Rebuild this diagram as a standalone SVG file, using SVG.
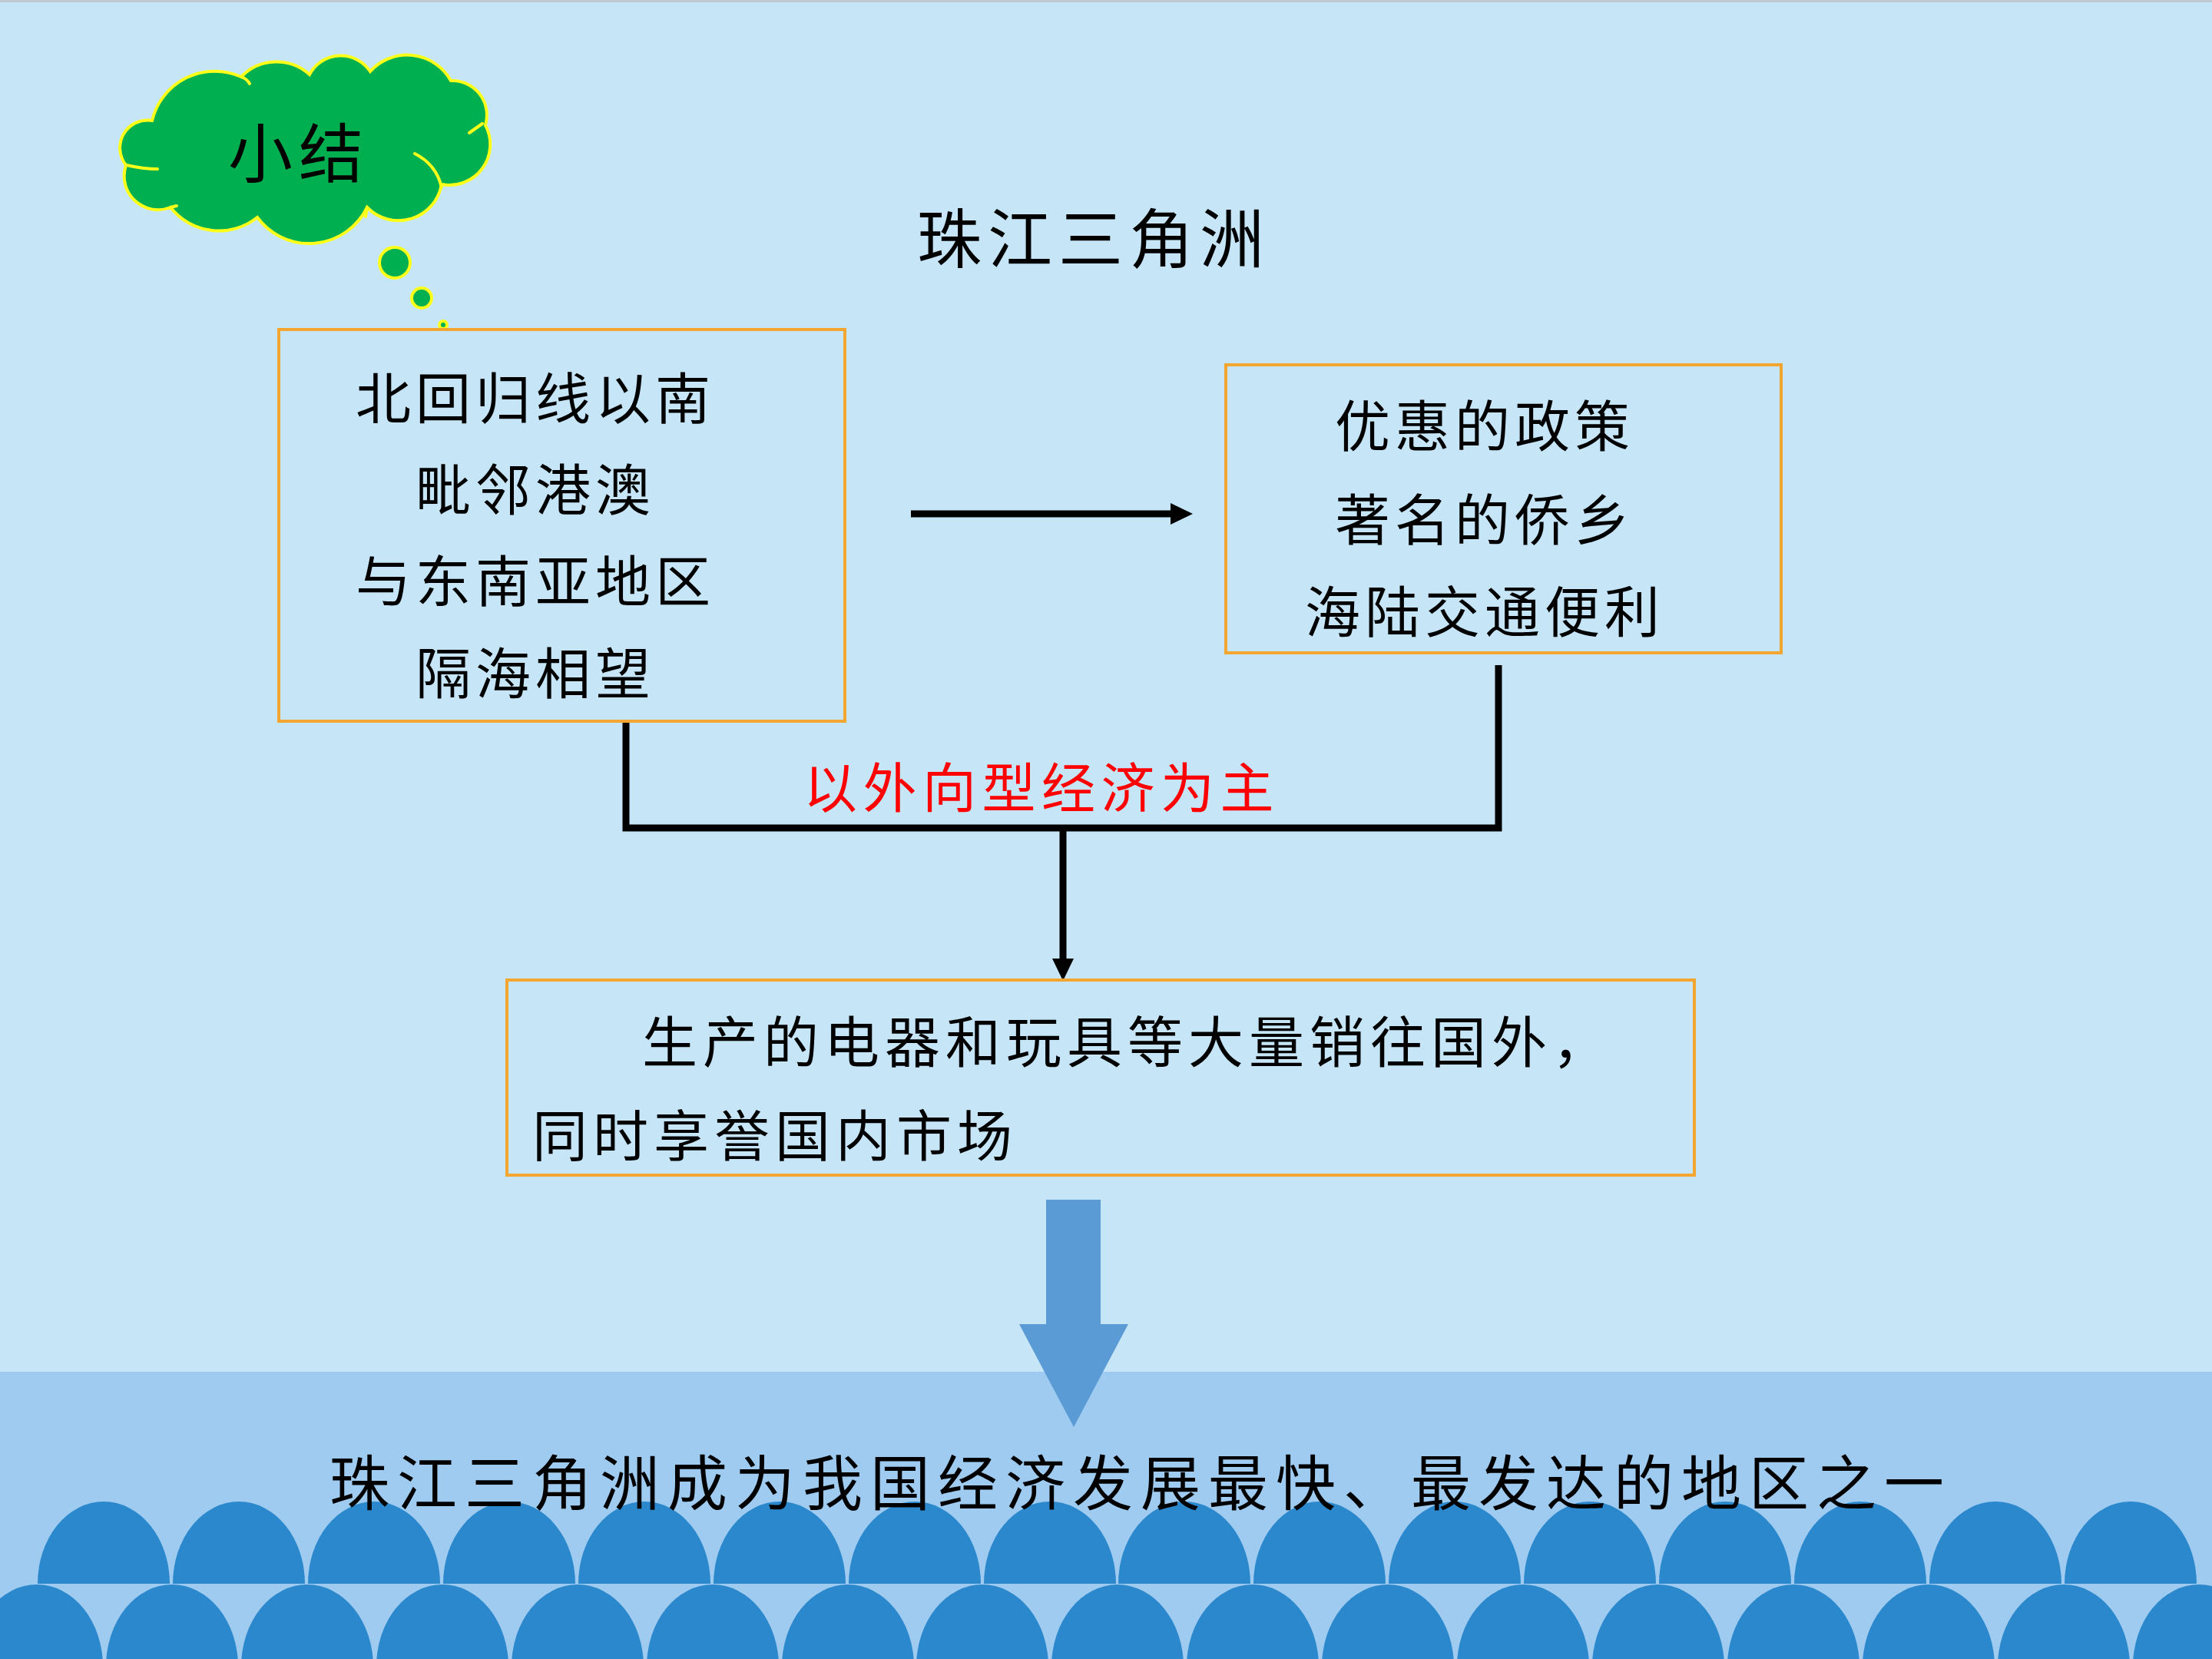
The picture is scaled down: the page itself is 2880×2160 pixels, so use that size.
<svg xmlns="http://www.w3.org/2000/svg" width="2880" height="2160" viewBox="0 0 2880 2160">
<defs>
<style>
.t{font-family:"Noto Sans CJK SC","Noto Sans CJK TC",sans-serif;fill:#000}
.box{fill:none;stroke:#F2A531;stroke-width:4}
.blk{fill:none;stroke:#000;stroke-width:9;stroke-linejoin:miter}
.cloud{fill:#00B050;stroke:#FFFF1A;stroke-width:4}
.tick{fill:none;stroke:#FFFF1A;stroke-width:4;stroke-linecap:round}
.wave{fill:#2B88CC}
</style>
<marker id="ah" markerUnits="userSpaceOnUse" markerWidth="30" markerHeight="30" refX="0" refY="15" orient="auto" viewBox="0 0 30 30">
<path d="M0,1 L29,15 L0,29 Z" fill="#000"/>
</marker>
</defs>
<rect x="0" y="0" width="2880" height="2160" fill="#C6E6F8"/>
<rect x="0" y="0" width="2880" height="3" fill="#BFC8CE"/>
<g id="sea">
<rect x="0" y="1786" width="2880" height="374" fill="#9ECBEF"/>
<path class="wave" d="M49,2062 A86,107 0 0 1 221,2062 Z M225,2062 A86,107 0 0 1 397,2062 Z M401,2062 A86,107 0 0 1 573,2062 Z M577,2062 A86,107 0 0 1 749,2062 Z M753,2062 A86,107 0 0 1 925,2062 Z M929,2062 A86,107 0 0 1 1101,2062 Z M1105,2062 A86,107 0 0 1 1277,2062 Z M1281,2062 A86,107 0 0 1 1453,2062 Z M1456,2062 A86,107 0 0 1 1628,2062 Z M1632,2062 A86,107 0 0 1 1804,2062 Z M1808,2062 A86,107 0 0 1 1980,2062 Z M1984,2062 A86,107 0 0 1 2156,2062 Z M2160,2062 A86,107 0 0 1 2332,2062 Z M2336,2062 A86,107 0 0 1 2508,2062 Z M2512,2062 A86,107 0 0 1 2684,2062 Z M2688,2062 A86,107 0 0 1 2860,2062 Z"/>
<path class="wave" d="M-38,2170 A86,107 0 0 1 134,2170 Z M138,2170 A86,107 0 0 1 310,2170 Z M314,2170 A86,107 0 0 1 486,2170 Z M490,2170 A86,107 0 0 1 662,2170 Z M666,2170 A86,107 0 0 1 838,2170 Z M842,2170 A86,107 0 0 1 1014,2170 Z M1018,2170 A86,107 0 0 1 1190,2170 Z M1193,2170 A86,107 0 0 1 1365,2170 Z M1369,2170 A86,107 0 0 1 1541,2170 Z M1545,2170 A86,107 0 0 1 1717,2170 Z M1721,2170 A86,107 0 0 1 1893,2170 Z M1897,2170 A86,107 0 0 1 2069,2170 Z M2073,2170 A86,107 0 0 1 2245,2170 Z M2249,2170 A86,107 0 0 1 2421,2170 Z M2425,2170 A86,107 0 0 1 2597,2170 Z M2601,2170 A86,107 0 0 1 2773,2170 Z M2777,2170 A86,107 0 0 1 2949,2170 Z"/>
</g>
<g id="summary-cloud">
<path class="cloud" d="M198,157 A36,36 0 0 0 164,215 A44,44 0 0 0 222,270 A80,80 0 0 0 335,283 A84,84 0 0 0 478,270 A57,57 0 0 0 575,240 A53,53 0 0 0 632,163 A45,45 0 0 0 587,105 A65,65 0 0 0 482,93 A46,46 0 0 0 403,97 A64,64 0 0 0 314,100 A84,84 0 0 0 198,157 Z"/>
<path class="tick" d="M540,200 Q568,214 575,244"/>
<path class="tick" d="M165,215 Q186,220 205,220"/>
<path class="tick" d="M611,173 L628,161"/>
<path class="tick" d="M314,100 Q322,103 325,109"/>
<path class="tick" d="M222,270 L230,268"/>
<path class="tick" d="M478,270 L476,282"/>
<circle class="cloud" cx="514" cy="342" r="20" stroke-width="3.5"/>
<circle class="cloud" cx="549" cy="388" r="13" stroke-width="3.5"/>
<circle class="cloud" cx="577" cy="423" r="5" stroke-width="3"/>
<text class="t" x="389" y="231" font-size="84" letter-spacing="8" text-anchor="middle">小结</text>
</g>
<g id="title">
<text class="t" x="1424" y="342" font-size="84" letter-spacing="8" text-anchor="middle">珠江三角洲</text>
</g>
<g id="connectors">
<line class="blk" x1="1186" y1="669" x2="1524" y2="669" marker-end="url(#ah)"/>
<polyline class="blk" points="815,940 815,1078 1951,1078 1951,866"/>
<line class="blk" x1="1384" y1="1078" x2="1384" y2="1248" marker-end="url(#ah)"/>
</g>
<g id="node-location">
<rect class="box" x="363" y="429" width="737" height="510"/>
<text class="t" x="697" y="545" font-size="72" letter-spacing="6" text-anchor="middle">北回归线以南</text>
<text class="t" x="697" y="664" font-size="72" letter-spacing="6" text-anchor="middle">毗邻港澳</text>
<text class="t" x="697" y="783" font-size="72" letter-spacing="6" text-anchor="middle">与东南亚地区</text>
<text class="t" x="697" y="903" font-size="72" letter-spacing="6" text-anchor="middle">隔海相望</text>
</g>
<g id="node-advantages">
<rect class="box" x="1596" y="475" width="723" height="375"/>
<text class="t" x="1933" y="581" font-size="72" letter-spacing="6" text-anchor="middle">优惠的政策</text>
<text class="t" x="1933" y="703" font-size="72" letter-spacing="6" text-anchor="middle">著名的侨乡</text>
<text class="t" x="1933" y="823" font-size="72" letter-spacing="6" text-anchor="middle">海陆交通便利</text>
</g>
<g id="label-economy">
<text class="t" x="1356" y="1052" font-size="70" letter-spacing="7.5" text-anchor="middle" style="fill:#FF0000">以外向型经济为主</text>
</g>
<g id="node-products">
<rect class="box" x="660" y="1276" width="1546" height="254"/>
<text class="t" x="836" y="1383" font-size="72" letter-spacing="7">生产的电器和玩具等大量销往国外，</text>
<text class="t" x="693" y="1505" font-size="72" letter-spacing="7">同时享誉国内市场</text>
</g>
<g id="big-arrow">
<polygon points="1362,1562 1433,1562 1433,1724 1469,1724 1398,1858 1327,1724 1362,1724" fill="#5B9BD5"/>
</g>
<g id="conclusion">
<text class="t" x="1485" y="1960" font-size="78" letter-spacing="10" text-anchor="middle">珠江三角洲成为我国经济发展最快、最发达的地区之一</text>
</g>
</svg>
